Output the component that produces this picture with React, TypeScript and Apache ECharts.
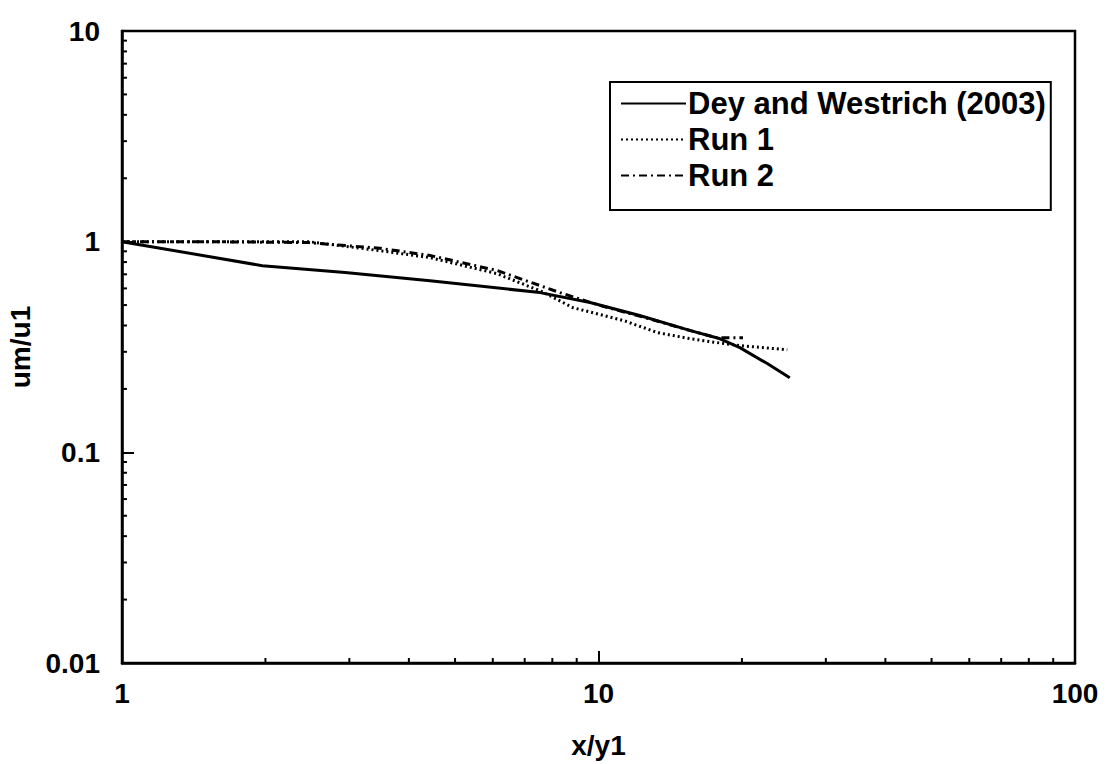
import React, { useEffect, useRef } from "react";
import * as echarts from "echarts";

const deyX = [1, 1.97, 2.94, 4.43, 7.54, 9.6, 12.2, 15.6, 18.0, 19.8, 22.6, 25.2];
const deyY = [1, 0.769, 0.713, 0.653, 0.573, 0.514, 0.446, 0.378, 0.346, 0.314, 0.264, 0.226];

const run1X = [1, 1.46, 2.46, 3.48, 4.43, 6.12, 7.6, 8.84, 11.3, 13.3, 15.6, 17.7, 19.8, 24.9];
const run1Y = [1.0, 1.0, 1.0, 0.906, 0.84, 0.705, 0.58, 0.486, 0.422, 0.37, 0.346, 0.332, 0.321, 0.307];

const run2X = [1, 1.5, 2.46, 3.48, 4.43, 6.12, 8.3, 10.1, 12.8, 15.6, 17.7, 20.1];
const run2Y = [1.0, 1.0, 0.99, 0.93, 0.86, 0.73, 0.573, 0.497, 0.43, 0.378, 0.35, 0.35];

const xMinorTicks = [2, 3, 4, 5, 6, 7, 8, 9, 20, 30, 40, 50, 60, 70, 80, 90];
const yMinorTicks = [
  0.02, 0.03, 0.04, 0.05, 0.06, 0.07, 0.08, 0.09,
  0.2, 0.3, 0.4, 0.5, 0.6, 0.7, 0.8, 0.9,
  2, 3, 4, 5, 6, 7, 8, 9,
];

const seriesNames = ["Dey and Westrich (2003)", "Run 1", "Run 2"];

const FONT = "'Liberation Sans', Arial, Helvetica, sans-serif";

const zip = (xs: number[], ys: number[]) => xs.map((x, i) => [x, ys[i]]);

export default function App() {
  const ref = useRef<HTMLDivElement>(null);
  useEffect(() => {
    if (!ref.current) return;
    const chart = echarts.init(ref.current, undefined, { renderer: "svg" });
    const fmt = (v: number) => String(parseFloat(Number(v).toPrecision(6)));
    chart.setOption({
      animation: false,
      backgroundColor: "#ffffff",
      grid: {
        left: 122,
        right: 37,
        top: 31,
        bottom: 101,
        show: true,
        borderColor: "#000",
        borderWidth: 2.5,
        containLabel: false,
        outerBoundsMode: "none",
      },
      legend: {
        data: seriesNames,
        orient: "vertical",
        left: 610,
        top: 82,
        itemWidth: 65,
        itemHeight: 14,
        itemGap: 1,
        padding: [4, 5, 17, 10],
        borderColor: "#000",
        borderWidth: 2,
        backgroundColor: "#fff",
        itemStyle: { opacity: 0 },
        textStyle: {
          fontFamily: FONT,
          fontWeight: "bold",
          fontSize: 31,
          color: "#000",
          padding: [0, 0, 0, -3],
          lineHeight: 35,
        },
        inactiveColor: "#000",
      },
      xAxis: {
        type: "log",
        logBase: 10,
        min: 1,
        max: 100,
        name: "x/y1",
        nameLocation: "middle",
        nameGap: 68,
        nameTextStyle: { fontFamily: FONT, fontWeight: "bold", fontSize: 28, color: "#000" },
        axisLine: { show: true, lineStyle: { color: "#000", width: 2.5 } },
        axisTick: { show: true, inside: true, length: 12, lineStyle: { color: "#000", width: 2 } },
        axisLabel: {
          fontFamily: FONT,
          fontWeight: "bold",
          fontSize: 28,
          color: "#000",
          margin: 16,
          formatter: fmt,
        },
        splitLine: { show: false },
      },
      yAxis: {
        type: "log",
        logBase: 10,
        min: 0.01,
        max: 10,
        name: "um/u1",
        nameLocation: "middle",
        nameGap: 77,
        nameTextStyle: { fontFamily: FONT, fontWeight: "bold", fontSize: 28, color: "#000" },
        axisLine: { show: true, lineStyle: { color: "#000", width: 2.5 } },
        axisTick: { show: true, inside: true, length: 12, lineStyle: { color: "#000", width: 2 } },
        axisLabel: {
          fontFamily: FONT,
          fontWeight: "bold",
          fontSize: 28,
          color: "#000",
          margin: 22,
          formatter: fmt,
        },
        splitLine: { show: false },
      },
      series: [
        {
          name: seriesNames[0],
          type: "line",
          data: zip(deyX, deyY),
          symbol: "none",
          smooth: false,
          lineStyle: { color: "#000", width: 3, type: "solid" },
          itemStyle: { color: "#000" },
          z: 5,
        },
        {
          name: seriesNames[1],
          type: "line",
          data: zip(run1X, run1Y),
          symbol: "none",
          lineStyle: { color: "#000", width: 3, type: [2, 3] },
          itemStyle: { color: "#000" },
          z: 4,
        },
        {
          name: seriesNames[2],
          type: "line",
          data: zip(run2X, run2Y),
          symbol: "none",
          lineStyle: { color: "#000", width: 3, type: [8, 4, 2, 4] },
          itemStyle: { color: "#000" },
          z: 4,
        },
        {
          name: "xMinor",
          type: "custom",
          silent: true,
          data: xMinorTicks.map((v) => [v, 0.01]),
          renderItem: (params: any, api: any) => {
            const p = api.coord([api.value(0), api.value(1)]);
            return {
              type: "line",
              shape: { x1: p[0], y1: p[1], x2: p[0], y2: p[1] - 5 },
              style: { stroke: "#000", lineWidth: 2 },
            };
          },
          z: 3,
        },
        {
          name: "yMinor",
          type: "custom",
          silent: true,
          data: yMinorTicks.map((v) => [1, v]),
          renderItem: (params: any, api: any) => {
            const p = api.coord([api.value(0), api.value(1)]);
            return {
              type: "line",
              shape: { x1: p[0], y1: p[1], x2: p[0] + 5, y2: p[1] },
              style: { stroke: "#000", lineWidth: 2 },
            };
          },
          z: 3,
        },
      ],
    });
    return () => chart.dispose();
  }, []);
  return (
    <div
      ref={ref}
      style={{ position: "fixed", left: 0, top: 0, width: 1112, height: 764, background: "#fff" }}
    />
  );
}
